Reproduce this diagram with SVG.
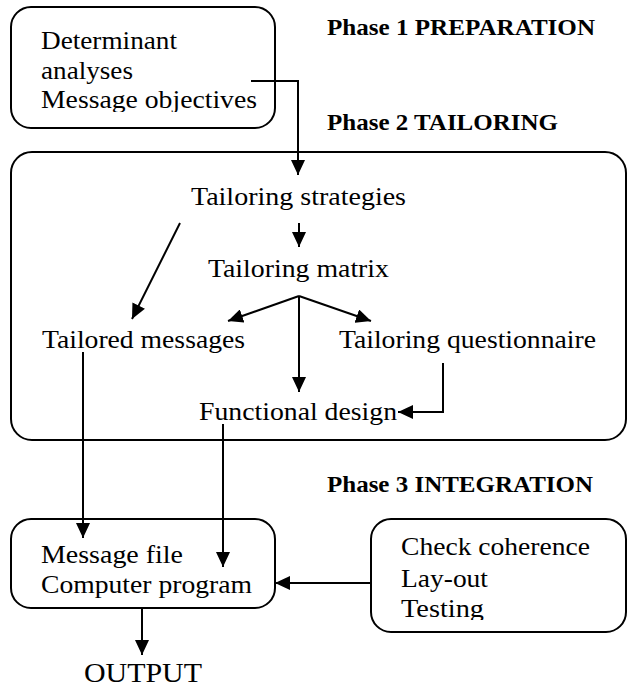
<svg xmlns="http://www.w3.org/2000/svg" width="627" height="689" viewBox="0 0 627 689">
<style>
.box{fill:none;stroke:#000;stroke-width:2}
.c{fill:none;stroke:#000;stroke-width:2}
</style>
<defs>
<marker id="ah" markerUnits="userSpaceOnUse" markerWidth="15" markerHeight="14" refX="15" refY="7" orient="auto">
<path d="M0,0 L15,7 L0,14 z" fill="#000"/>
</marker>
<clipPath id="clip1"><rect x="0" y="0" width="300" height="112"/></clipPath>
<clipPath id="clip2"><rect x="371" y="519" width="256" height="101"/></clipPath>
</defs>
<rect width="627" height="689" fill="#fff"/>

<g id="phase-labels" font-family="Liberation Serif, serif" font-size="24" font-weight="bold" fill="#000">
<text x="327" y="35" textLength="268" lengthAdjust="spacingAndGlyphs">Phase 1 PREPARATION</text>
<text x="327" y="130" textLength="231" lengthAdjust="spacingAndGlyphs">Phase 2 TAILORING</text>
<text x="327" y="492" textLength="266" lengthAdjust="spacingAndGlyphs">Phase 3 INTEGRATION</text>
</g>

<g font-family="Liberation Serif, serif" font-size="26" fill="#000">
<g id="preparation">
<rect class="box" x="11" y="7" width="264" height="121" rx="20"/>
<g clip-path="url(#clip1)">
<text x="41" y="49" textLength="136" lengthAdjust="spacingAndGlyphs">Determinant</text>
<text x="41" y="79" textLength="92" lengthAdjust="spacingAndGlyphs">analyses</text>
<text x="41" y="108" textLength="216" lengthAdjust="spacingAndGlyphs">Message objectives</text>
</g>
</g>

<g id="tailoring">
<rect class="box" x="11" y="152" width="615" height="288" rx="21"/>
</g>

<g id="tailoring-strategies"><text x="191" y="205" textLength="215" lengthAdjust="spacingAndGlyphs">Tailoring strategies</text></g>
<g id="tailoring-matrix"><text x="208" y="277" textLength="181" lengthAdjust="spacingAndGlyphs">Tailoring matrix</text></g>
<g id="tailored-messages"><text x="42" y="348" textLength="203" lengthAdjust="spacingAndGlyphs">Tailored messages</text></g>
<g id="tailoring-questionnaire"><text x="339" y="348" textLength="257" lengthAdjust="spacingAndGlyphs">Tailoring questionnaire</text></g>
<g id="functional-design"><text x="199" y="420" textLength="198" lengthAdjust="spacingAndGlyphs">Functional design</text></g>

<g id="integration">
<rect class="box" x="11" y="519" width="264" height="89" rx="20"/>
<text x="41" y="563" textLength="142" lengthAdjust="spacingAndGlyphs">Message file</text>
<text x="41" y="593" textLength="211" lengthAdjust="spacingAndGlyphs">Computer program</text>
</g>

<g id="checks">
<rect class="box" x="371" y="519" width="255" height="113" rx="20"/>
<g clip-path="url(#clip2)">
<text x="401" y="555" textLength="189" lengthAdjust="spacingAndGlyphs">Check coherence</text>
<text x="401" y="587" textLength="87" lengthAdjust="spacingAndGlyphs">Lay-out</text>
<text x="401" y="617" textLength="83" lengthAdjust="spacingAndGlyphs">Testing</text>
</g>
</g>

<g id="output"><text x="84" y="682" font-size="28" textLength="118" lengthAdjust="spacingAndGlyphs">OUTPUT</text></g>
</g>

<g id="connectors">
<path class="c" d="M251,81 H298 V175" marker-end="url(#ah)"/>
<path class="c" d="M299,223 V247" marker-end="url(#ah)"/>
<path class="c" d="M180,223 L132,319" marker-end="url(#ah)"/>
<path class="c" d="M299,296 L228,321" marker-end="url(#ah)"/>
<path class="c" d="M299,296 L371,321" marker-end="url(#ah)"/>
<path class="c" d="M299,296 V392" marker-end="url(#ah)"/>
<path class="c" d="M443,363 V412 H398" marker-end="url(#ah)"/>
<path class="c" d="M83,352 V538" marker-end="url(#ah)"/>
<path class="c" d="M223,424 V567" marker-end="url(#ah)"/>
<path class="c" d="M371,583 H275" marker-end="url(#ah)"/>
<path class="c" d="M142,608 V655" marker-end="url(#ah)"/>
</g>
</svg>
